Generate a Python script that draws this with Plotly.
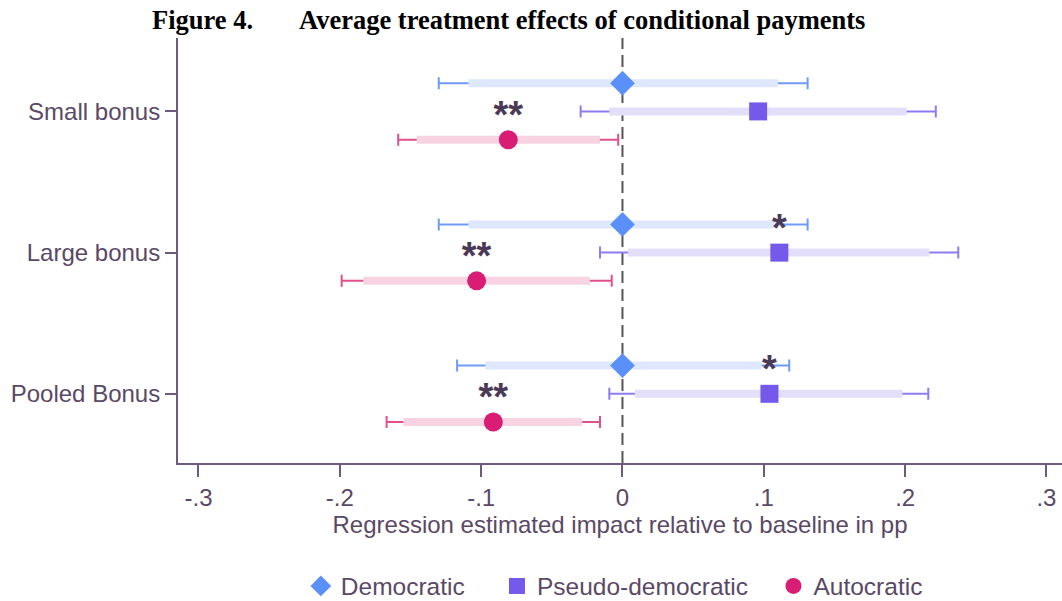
import plotly.graph_objects as go

# ---- data ----
categories = ["Small bonus", "Large bonus", "Pooled Bonus"]
cat_pos = [3, 2, 1]
row_offset = 0.2  # vertical offset of Democratic (up) / Autocratic (down)

dem_est = [0.0, 0.0, 0.0]
dem_lo95 = [-0.130, -0.130, -0.117]
dem_hi95 = [0.131, 0.131, 0.118]
dem_lo90 = [-0.109, -0.109, -0.097]
dem_hi90 = [0.110, 0.110, 0.0985]

pse_est = [0.096, 0.111, 0.104]
pse_lo95 = [-0.0296, -0.0159, -0.0093]
pse_hi95 = [0.2217, 0.2376, 0.2164]
pse_lo90 = [-0.0093, 0.0039, 0.0088]
pse_hi90 = [0.2011, 0.2171, 0.198]

aut_est = [-0.0808, -0.1032, -0.0914]
aut_lo95 = [-0.1587, -0.1987, -0.1669]
aut_hi95 = [-0.003, -0.0076, -0.0159]
aut_lo90 = [-0.1456, -0.1834, -0.1551]
aut_hi90 = [-0.0159, -0.023, -0.0285]

star_x = [-0.0808, 0.111, -0.1032, 0.104, -0.0914]
star_y = [2.95, 2.15, 1.95, 1.15, 0.95]
star_text = ["**", "*", "**", "*", "**"]

x_ticks = [-0.3, -0.2, -0.1, 0, 0.1, 0.2, 0.3]
x_ticktext = ["-.3", "-.2", "-.1", "0", ".1", ".2", ".3"]

series = [
    dict(name="Democratic", est=dem_est, lo95=dem_lo95, hi95=dem_hi95, lo90=dem_lo90, hi90=dem_hi90,
         off=row_offset, symbol="diamond", size=19, color="#5b8ff9", bar="#dde7fd", whisk="#6f9bf8"),
    dict(name="Pseudo-democratic", est=pse_est, lo95=pse_lo95, hi95=pse_hi95, lo90=pse_lo90, hi90=pse_hi90,
         off=0.0, symbol="square", size=18, color="#7559ea", bar="#e3dffa", whisk="#8c7cf0"),
    dict(name="Autocratic", est=aut_est, lo95=aut_lo95, hi95=aut_hi95, lo90=aut_lo90, hi90=aut_hi90,
         off=-row_offset, symbol="circle", size=19, color="#d91c74", bar="#f8d4e3", whisk="#e2508c"),
]
legend_pad = ["\u00a0" * 4, "\u00a0" * 3, ""]

TXT = "#5a4966"
AX = "#6e5a7c"
FONT = "Liberation Sans"

fig = go.Figure()

for s in series:
    ys = [p + s["off"] for p in cat_pos]
    # 95% whiskers (under everything)
    fig.add_trace(go.Scatter(
        x=s["est"], y=ys, mode="markers", marker=dict(size=1, opacity=0),
        error_x=dict(type="data", symmetric=False,
                     array=[h - e for h, e in zip(s["hi95"], s["est"])],
                     arrayminus=[e - l for e, l in zip(s["est"], s["lo95"])],
                     color=s["whisk"], thickness=2, width=6),
        showlegend=False, hoverinfo="skip"))
    # 90% thick bars
    bx, by = [], []
    for lo, hi, y in zip(s["lo90"], s["hi90"], ys):
        bx += [lo, hi, None]
        by += [y, y, None]
    fig.add_trace(go.Scatter(x=bx, y=by, mode="lines",
                             line=dict(color=s["bar"], width=8),
                             showlegend=False, hoverinfo="skip"))

for s, pad in zip(series, legend_pad):
    ys = [p + s["off"] for p in cat_pos]
    fig.add_trace(go.Scatter(
        x=s["est"], y=ys, mode="markers", name=s["name"] + pad,
        marker=dict(symbol=s["symbol"], size=s["size"], color=s["color"],
                    line=dict(width=0))))

fig.add_trace(go.Scatter(
    x=star_x, y=star_y, mode="text", text=["<b>" + t + "</b>" for t in star_text],
    textposition="middle center",
    textfont=dict(family=FONT, size=38, color="#4a3a56"),
    showlegend=False, hoverinfo="skip"))

fig.add_shape(type="line", xref="x", yref="paper", x0=0, x1=0, y0=0, y1=1,
              line=dict(color="#555555", width=2, dash="12px,6px"), layer="below")

fig.update_layout(
    width=1062, height=601,
    margin=dict(l=178, r=0, t=38, b=138, autoexpand=False),
    paper_bgcolor="white", plot_bgcolor="white",
    font=dict(family=FONT, size=24, color=TXT),
    showlegend=True,
    legend=dict(orientation="h", x=0.4936, xanchor="center", y=-0.2894, yanchor="middle",
                font=dict(family=FONT, size=24.5, color=TXT), itemsizing="trace",
                traceorder="normal"),
    xaxis=dict(range=[-0.3145, 0.311], tickvals=x_ticks, ticktext=x_ticktext,
               showgrid=False, zeroline=False, showline=True, linecolor=AX, linewidth=2,
               ticks="outside", ticklen=12, tickwidth=1.5, tickcolor=AX, automargin=False,
               tickfont=dict(family=FONT, size=24, color=TXT),
               title=dict(text="Regression estimated impact relative to baseline in pp",
                          font=dict(family=FONT, size=24, color=TXT), standoff=6)),
    yaxis=dict(range=[0.51, 3.52], tickvals=cat_pos, ticktext=categories,
               showgrid=False, zeroline=False, showline=True, linecolor=AX, linewidth=2,
               ticks="outside", ticklen=11, tickwidth=1.5, tickcolor=AX, automargin=False,
               tickfont=dict(family=FONT, size=24, color=TXT)),
)

fig.add_annotation(text="<b>Figure 4.</b>", xref="paper", yref="paper",
                   x=(150 - 178) / 884, y=1, yshift=18, xanchor="left", yanchor="middle",
                   showarrow=False, font=dict(family="Liberation Serif", size=26.5, color="black"))
fig.add_annotation(text="<b>Average treatment effects of conditional payments</b>", xref="paper", yref="paper",
                   x=(297 - 178) / 884, y=1, yshift=18, xanchor="left", yanchor="middle",
                   showarrow=False, font=dict(family="Liberation Serif", size=26.5, color="black"))

fig.write_html("out.html", config={"displayModeBar": False},
               post_script="document.body.style.margin='0';document.body.style.padding='0';")
